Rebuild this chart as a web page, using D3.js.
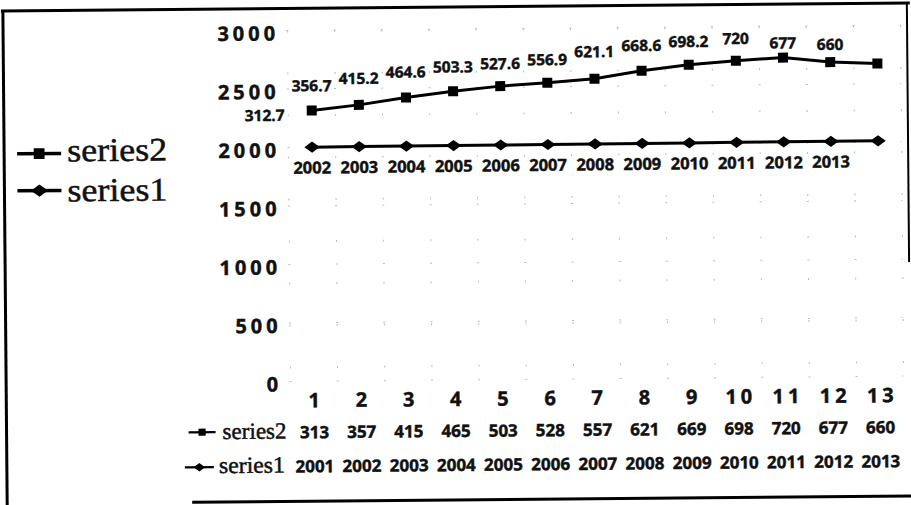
<!DOCTYPE html>
<html>
<head>
<meta charset="utf-8">
<script src="https://cdn.jsdelivr.net/npm/d3@7"></script>
<style>
  body { margin: 0; background: #fff; }
  svg { display: block; }
  .num { font-family: "Open Sans", sans-serif; font-weight: 700; fill: #111; stroke: #111; stroke-width: 0.45px; }
  .serif { font-family: "Liberation Serif", "Times New Roman", serif; fill: #111; stroke: #111; stroke-width: 0.5px; }
</style>
</head>
<body>
<svg width="911" height="505"></svg>
<script>
const categories = ["1", "2", "3", "4", "5", "6", "7", "8", "9", "10", "11", "12", "13"];
const series1 = [2001, 2002, 2003, 2004, 2005, 2006, 2007, 2008, 2009, 2010, 2011, 2012, 2013];
const series2 = [312.7, 356.7, 415.2, 464.6, 503.3, 527.6, 556.9, 621.1, 668.6, 698.2, 720, 677, 660];
const yTicks = [0, 500, 1000, 1500, 2000, 2500, 3000];
const seriesNames = ["series2", "series1"];

const KEY_BOTTOM = "series1";
const KEY_TOP = "series2";

function drawChart() {
  const svg = d3.select("svg");
  // the scan is tilted a little, so is the whole drawing
  const root = svg.append("g").attr("transform", "rotate(-0.5 455 252)");

  const rows = categories.map((c, i) => ({ cat: c, series1: series1[i], series2: series2[i] }));
  const stacked = d3.stack().keys([KEY_BOTTOM, KEY_TOP])(rows);

  const xScale = d3.scalePoint().domain(categories).range([289.4, 902.6]).padding(0.5);
  const step = xScale.step();
  const yScale = d3.scaleLinear().domain([0, 3000]).range([380, 29]);

  // frame
  const frame = root.append("g").attr("stroke", "#000").attr("fill", "none");
  frame.append("line").attr("x1", 3).attr("x2", 912).attr("y1", 7).attr("y2", 7).attr("stroke-width", 3);
  frame.append("line").attr("x1", 5).attr("x2", 5).attr("y1", 6).attr("y2", 512).attr("stroke-width", 3);
  frame.append("line").attr("x1", 909).attr("x2", 909).attr("y1", 6).attr("y2", 266).attr("stroke-width", 2);
  frame.append("line").attr("x1", 190).attr("x2", 915).attr("y1", 500).attr("y2", 500).attr("stroke-width", 3);

  // faint dotted grid
  const [x0, x1] = xScale.range();
  const grid = root.append("g").attr("stroke", "#bbb").attr("stroke-width", 1);
  grid.selectAll(".hgrid")
    .data(yTicks)
    .enter()
    .append("line")
    .attr("x1", x0 - 1)
    .attr("x2", x1)
    .attr("y1", d => yScale(d))
    .attr("y2", d => yScale(d))
    .attr("stroke-dasharray", `2,${step - 2}`);
  grid.selectAll(".vgrid")
    .data(d3.range(categories.length + 1))
    .enter()
    .append("line")
    .attr("x1", d => x0 + d * step)
    .attr("x2", d => x0 + d * step)
    .attr("y1", yScale(3000))
    .attr("y2", yScale(0))
    .attr("stroke-dasharray", "2,40");

  // y axis labels
  const yAxis = d3.axisLeft(yScale)
    .tickValues(yTicks)
    .tickFormat(d3.format("d"))
    .tickSize(0)
    .tickPadding(0);
  const yG = root.append("g").attr("transform", "translate(281,3)").call(yAxis);
  yG.select(".domain").remove();
  yG.selectAll("text")
    .attr("class", "num")
    .attr("font-size", 20)
    .attr("letter-spacing", "4px");

  // lines
  const valueline = d3.line().x(d => xScale(d.data.cat)).y(d => yScale(d[1]));
  stacked.forEach(s => {
    root.append("path")
      .attr("d", valueline(s))
      .attr("fill", "none")
      .attr("stroke", "#000")
      .attr("stroke-width", 3);
  });

  // markers
  addMarkers(root, stacked[0], xScale, yScale, "diamond");
  addMarkers(root, stacked[1], xScale, yScale, "square");

  // data labels (shifted one category to the left, as in the original)
  root.selectAll(".lab2")
    .data(stacked[1])
    .enter()
    .append("text")
    .attr("class", "num")
    .attr("font-size", 15.5)
    .attr("text-anchor", "middle")
    .attr("dominant-baseline", "central")
    .attr("x", d => xScale(d.data.cat) - step)
    .attr("y", (d, i) => i === 0 ? yScale(d[1]) + 4 : yScale(d[1]) - 20)
    .text(d => d.data[KEY_TOP]);
  root.selectAll(".lab1")
    .data(stacked[0].slice(1))
    .enter()
    .append("text")
    .attr("class", "num")
    .attr("font-size", 16.5)
    .attr("text-anchor", "middle")
    .attr("dominant-baseline", "central")
    .attr("x", d => xScale(d.data.cat) - step)
    .attr("y", d => yScale(d[1]) + 20)
    .text(d => d.data[KEY_BOTTOM]);

  // data table under the plot
  const fmt = d3.format(".0f");
  root.selectAll(".cat")
    .data(categories)
    .enter()
    .append("text")
    .attr("class", "num")
    .attr("font-size", 20)
    .attr("letter-spacing", "4px")
    .attr("text-anchor", "middle")
    .attr("x", d => xScale(d) + 2)
    .attr("y", 406)
    .text(d => d);
  root.selectAll(".row2")
    .data(rows)
    .enter()
    .append("text")
    .attr("class", "num")
    .attr("font-size", 17)
    .attr("text-anchor", "middle")
    .attr("x", d => xScale(d.cat))
    .attr("y", 437)
    .text(d => fmt(d[KEY_TOP]));
  root.selectAll(".row1")
    .data(rows)
    .enter()
    .append("text")
    .attr("class", "num")
    .attr("font-size", 17)
    .attr("text-anchor", "middle")
    .attr("x", d => xScale(d.cat))
    .attr("y", 471)
    .text(d => d[KEY_BOTTOM]);

  // table legend keys
  addLegendKey(root, seriesNames[0], "square", 187, 214, 430, 221, 437, 23, 64, 0.8);
  addLegendKey(root, seriesNames[1], "diamond", 183, 212, 465, 217, 471, 23, 66, 0.8);

  // big legend on the left
  addLegendKey(root, seriesNames[0], "square", 18, 62, 150, 68, 158, 33, 100, 1.2);
  addLegendKey(root, seriesNames[1], "diamond", 18, 62, 187, 68, 198, 33, 100, 1.2);
}

/********************************************************************/
// helpers
/********************************************************************/
function markerPath(shape, s) {
  if (shape === "square") {
    return `M${-s},${-s}h${2 * s}v${2 * s}h${-2 * s}Z`;
  }
  return `M0,${-s * 0.8}L${s * 1.1},0L0,${s * 0.8}L${-s * 1.1},0Z`;
}

function addMarkers(g, data, xScale, yScale, shape) {
  g.selectAll(".m-" + shape)
    .data(data)
    .enter()
    .append("path")
    .attr("d", markerPath(shape, shape === "square" ? 5 : 7))
    .attr("transform", d => `translate(${xScale(d.data.cat)},${yScale(d[1])})`)
    .attr("fill", "#000");
}

function addLegendKey(g, name, shape, lx0, lx1, ly, tx, ty, fontSize, textLen, scale) {
  g.append("line")
    .attr("x1", lx0)
    .attr("x2", lx1)
    .attr("y1", ly)
    .attr("y2", ly)
    .attr("stroke", "#000")
    .attr("stroke-width", 3 * scale);
  g.append("path")
    .attr("d", markerPath(shape, (shape === "square" ? 4.5 : 6.5) * scale))
    .attr("transform", `translate(${(lx0 + lx1) / 2},${ly})`)
    .attr("fill", "#000");
  const t = g.append("text")
    .attr("class", "serif")
    .attr("font-size", fontSize)
    .attr("x", tx)
    .attr("y", ty)
    .text(name);
  if (textLen) {
    t.attr("textLength", textLen).attr("lengthAdjust", "spacingAndGlyphs");
  }
}

drawChart();
</script>
</body>
</html>
